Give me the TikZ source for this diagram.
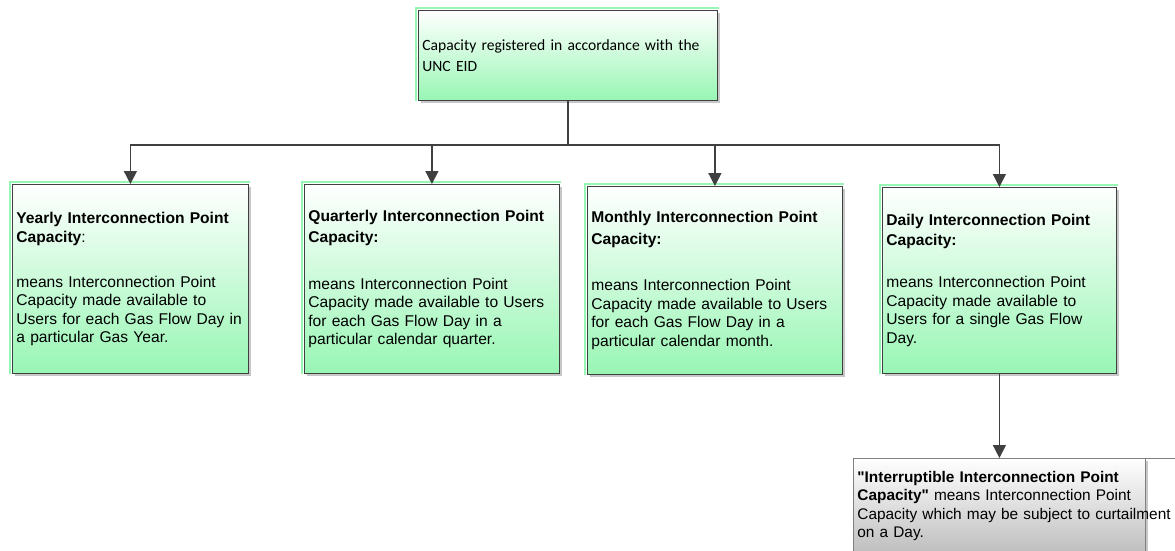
\documentclass[tikz,border=0pt]{standalone}
\usepackage{fontspec}
\setmainfont{Liberation Sans}[Ligatures=TeXOff]
\newfontfamily\calfont{Carlito}
\usetikzlibrary{arrows.meta,shadows}
\definecolor{mint}{RGB}{152,246,180}
\definecolor{edge}{RGB}{64,64,64}
\definecolor{grayend}{RGB}{175,175,175}
\tikzset{
  x=1pt,y=-1pt,
  boxbase/.style={draw=edge,line width=0.8pt,rectangle,anchor=north west,
    align=left,inner xsep=4pt,inner ysep=2pt,
    drop shadow={shadow xshift=3pt,shadow yshift=-3pt,fill=black!22,opacity=1}},
  greenbox/.style={boxbase,top color=white,bottom color=mint,
    font=\fontsize{15.6}{18.5}\selectfont},
  graybox/.style={boxbase,top color=white,bottom color=grayend,draw=gray,
    font=\fontsize{15.4}{18.3}\selectfont},
  greenedge/.style={draw=mint,line width=2.2pt},
  conn/.style={draw=edge,line width=1.4pt},
  arr/.style={conn,-{Triangle[length=13pt,width=13pt]}}
}
\begin{document}
\begin{tikzpicture}
\useasboundingbox (0,0) rectangle (1175,550);
% top box
\node[greenbox,minimum width=299,minimum height=90,text width=291,
  font=\calfont\fontsize{15.6}{20.5}\selectfont] (top) at (418,10)
  {Capacity registered in accordance with the\\UNC EID};
% level two
\node[greenbox,minimum width=236,minimum height=189,text width=228] (yr) at (12,184)
  {\textbf{Yearly Interconnection Point}\\[1pt]\textbf{Capacity}:\\[26pt]means Interconnection Point\\Capacity made available to\\\mbox{Users for each Gas Flow Day in}\\a particular Gas Year.};
\node[greenbox,minimum width=255,minimum height=189,text width=247] (qt) at (304,184)
  {\mbox{\textbf{Quarterly Interconnection Point}}\\[3pt]\textbf{Capacity:}\\[28pt]means Interconnection Point\\\mbox{Capacity made available to Users}\\for each Gas Flow Day in a\\particular calendar quarter.};
\node[greenbox,minimum width=255,minimum height=188,text width=247] (mo) at (587,186)
  {\mbox{\textbf{Monthly Interconnection Point}}\\[3pt]\textbf{Capacity:}\\[28pt]means Interconnection Point\\\mbox{Capacity made available to Users}\\for each Gas Flow Day in a\\particular calendar month.};
\node[greenbox,minimum width=234,minimum height=186,text width=226] (dy) at (882,187)
  {\mbox{\textbf{Daily Interconnection Point}}\\[1pt]\textbf{Capacity:}\\[24pt]means Interconnection Point\\Capacity made available to\\\mbox{Users for a single Gas Flow}\\Day.};
% bottom box
\node[graybox,minimum width=292,minimum height=110,text width=284,anchor=north west,
  inner ysep=0pt] (ir) at (853,458)
  {\rule{0pt}{24pt}\mbox{\textbf{"Interruptible Interconnection Point}}\\\mbox{\textbf{Capacity"} means Interconnection Point}\\\mbox{Capacity which may be subject to curtailment}\\on a Day.\\[20pt]\mbox{}};
% green top/left edges
\foreach \n in {top,yr,qt,mo,dy}{
  \draw[greenedge] ([xshift=-1.8pt]\n.south west) -- ([xshift=-1.8pt,yshift=1.8pt]\n.north west) -- ([xshift=1pt,yshift=1.8pt]\n.north east);
}
\draw[draw=gray,line width=0.8pt] (ir.north east) -- (1175,458);
% connectors
\coordinate (j) at (top.south |- 0,145);
\draw[conn] (top.south) -- (j);
\draw[arr] (j) -| (yr.north);
\draw[arr] (j) -| (qt.north);
\draw[arr] (j) -| (mo.north);
\draw[arr] (j) -| (dy.north);
\draw[arr] (dy.south) -- (ir.north -| dy.south);
\end{tikzpicture}
\end{document}
